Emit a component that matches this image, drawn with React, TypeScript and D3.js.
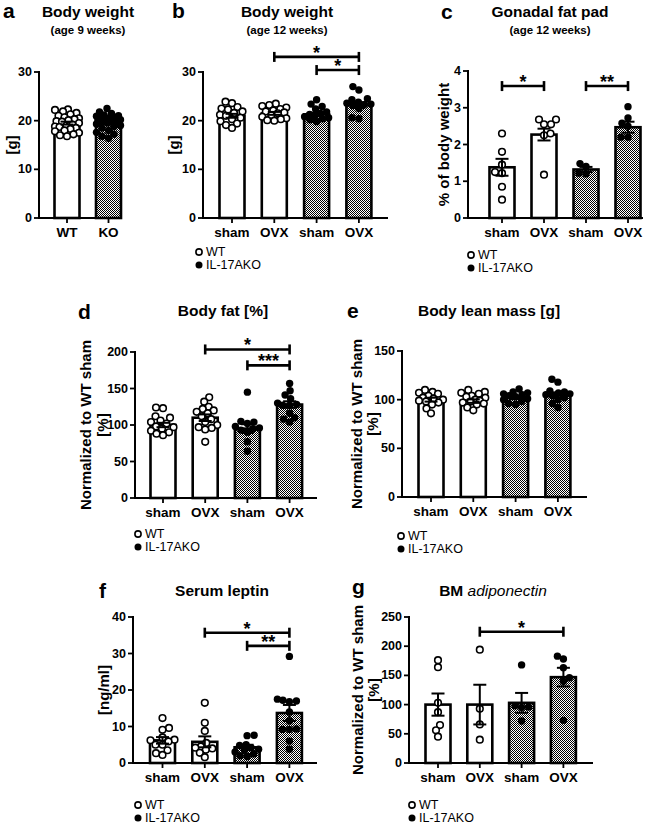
import React from "react";
import * as d3 from "d3";

const FONT = "'Liberation Sans', Arial, Helvetica, sans-serif";

// ---------- data ----------
const legendLabels = ["WT", "IL-17AKO"];
const fourGroups = ["sham", "OVX", "sham", "OVX"];
const fourGeno = ["WT", "WT", "KO", "KO"];

// a: body weight 9 weeks
const aGroups = ["WT", "KO"];
const aGeno = ["WT", "KO"];
const aMeans = [19.5, 19.6];
const aSems = [0.3, 0.3];
const aPoints = [
  [22.3, 22.2, 21.6, 21.9, 21.3, 21.0, 20.7, 20.5, 20.3, 20.1, 19.9, 19.8, 19.5, 19.2, 19.0, 18.8, 18.7, 18.5, 18.3, 18.0, 17.8, 17.5, 17.2, 17.0, 16.8],
  [22.5, 21.8, 21.5, 21.2, 21.0, 20.9, 20.7, 20.6, 20.5, 20.4, 20.2, 20.1, 20.0, 19.9, 19.7, 19.5, 19.3, 19.0, 18.8, 18.5, 18.0, 17.6, 17.2, 16.8, 16.4],
];

// b: body weight 12 weeks
const bMeans = [21.0, 21.5, 21.3, 23.2];
const bSems = [0.4, 0.3, 0.35, 0.6];
const bPoints = [
  [23.9, 23.6, 22.8, 22.5, 22.3, 21.9, 21.6, 21.2, 21.0, 20.6, 20.3, 19.9, 19.4, 19.1, 18.5],
  [23.5, 23.2, 23.0, 22.7, 22.4, 22.1, 21.9, 21.7, 21.5, 21.1, 20.8, 20.5, 20.3, 20.1, 20.0],
  [24.3, 23.4, 22.9, 22.4, 21.8, 21.5, 21.3, 21.0, 20.8, 20.6, 20.4, 20.2, 19.8],
  [27.0, 26.3, 24.5, 24.3, 23.8, 23.6, 23.4, 23.3, 23.1, 22.5, 20.6, 20.4],
];
const bBrackets = [
  { from: 1, to: 3, at: 33.1, label: "*" },
  { from: 2, to: 3, at: 30.4, label: "*" },
];

// c: gonadal fat pad
const cMeans = [1.38, 2.27, 1.32, 2.47];
const cSems = [0.23, 0.16, 0.07, 0.15];
const cPoints = [
  [2.3, 1.8, 1.45, 1.25, 1.22, 0.85, 0.5],
  [2.68, 2.68, 2.55, 2.55, 2.3, 2.25, 1.18],
  [1.48, 1.4, 1.22, 1.2],
  [3.03, 2.72, 2.58, 2.5, 2.2, 2.2],
];
const cBrackets = [
  { from: 0, to: 1, at: 3.59, label: "*" },
  { from: 2, to: 3, at: 3.59, label: "**" },
];

// d: body fat
const dMeans = [100, 110, 95, 128];
const dSems = [3, 4.5, 6, 4.5];
const dPoints = [
  [124, 123, 112, 110, 106, 104, 102, 98, 97, 95, 92, 90, 88, 86],
  [138, 132, 125, 122, 120, 118, 116, 112, 108, 104, 100, 97, 96, 94, 77],
  [145, 105, 104, 102, 98, 96, 95, 93, 90, 77, 64],
  [157, 147, 141, 136, 130, 128, 127, 127, 116, 110, 108, 104],
];
const dBrackets = [
  { from: 1, to: 3, at: 203.5, label: "*" },
  { from: 2, to: 3, at: 181.7, label: "***" },
];

// e: body lean mass
const eMeans = [100, 98.5, 102, 105];
const eSems = [2, 1.8, 1.5, 2.5];
const ePoints = [
  [110, 108, 107, 106, 104, 102, 101, 100, 99, 98, 97, 95, 91, 86],
  [110, 108, 107, 106, 104, 103, 102, 100, 99, 98, 97, 96, 95, 92, 89],
  [111, 108, 107, 106, 105, 104, 103, 101, 100, 98, 96, 95],
  [121, 118, 109, 108, 107, 106, 105, 104, 102, 100, 96, 92],
];

// f: serum leptin
const fMeans = [6.2, 5.8, 4.3, 13.7];
const fSems = [0.9, 1.5, 0.7, 2.2];
const fPoints = [
  [12.3, 9.6, 9.1, 7.0, 6.4, 6.2, 5.9, 5.0, 5.0, 3.5, 2.7, 2.2],
  [16.5, 11.0, 8.8, 5.5, 4.5, 4.2, 4.0, 3.6, 2.8, 1.6],
  [7.6, 7.5, 5.0, 4.8, 4.2, 3.8, 3.5, 3.0, 2.5, 2.0, 1.8],
  [29.2, 17.5, 17.2, 17.0, 16.8, 14.0, 11.5, 9.3, 9.2, 9.2, 6.0, 3.8],
];
const fBrackets = [
  { from: 1, to: 3, at: 35.7, label: "*" },
  { from: 2, to: 3, at: 32.1, label: "**" },
];

// g: BM adiponectin
const gMeans = [100, 100, 103, 147];
const gSems = [19, 34, 17, 16];
const gPoints = [
  [176, 164, 103, 87, 65, 56, 45],
  [194, 93, 66, 40],
  [168, 98, 96, 95, 72],
  [183, 178, 163, 146, 140, 73],
];
const gBrackets = [{ from: 1, to: 3, at: 224.8, label: "*" }];

// ---------- helpers ----------
const R = 3.3;

function swarm(ys: number[], r: number, maxOff: number): number[] {
  const idx = ys.map((_, i) => i).sort((a, b) => ys[b] - ys[a]);
  const placed: { x: number; y: number }[] = [];
  const xs = new Array(ys.length).fill(0);
  const d = 2 * r;
  idx.forEach((i, n) => {
    const yv = ys[i];
    let best = 0;
    let bestScore = -Infinity;
    let done = false;
    const signs = n % 2 === 0 ? [1, -1] : [-1, 1];
    for (let k = 0; k <= maxOff * 2 && !done; k++) {
      for (const s of k === 0 ? [1] : signs) {
        const off = s * k * 0.5;
        let minD = Infinity;
        for (const p of placed) {
          const dd = Math.hypot(p.x - off, p.y - yv);
          if (dd < minD) minD = dd;
        }
        if (minD >= d) {
          best = off;
          done = true;
          break;
        }
        if (minD > bestScore + 0.01) {
          bestScore = minD;
          best = off;
        }
      }
    }
    xs[i] = best;
    placed.push({ x: best, y: yv });
  });
  return xs;
}

type Bracket = { from: number; to: number; at: number; label: string };

type PanelCfg = {
  letter: string;
  letterX: number;
  letterY: number;
  title: React.ReactNode;
  titleX: number;
  titleY: number;
  subtitle?: string;
  subY?: number;
  axisX: number;
  yTop: number;
  yBottom: number;
  max: number;
  ticks: number[];
  firstCenter: number;
  spacing: number;
  axisEnd: number;
  labels: string[];
  geno: string[];
  means: number[];
  sems: number[];
  points: number[][];
  ylabel: string[];
  ylabelX: number[];
  brackets?: Bracket[];
  legend?: { x: number; y: number };
};

const LEG_STEP = 13;

function Panel({ c }: { c: PanelCfg }) {
  const y = d3.scaleLinear().domain([0, c.max]).range([c.yBottom, c.yTop]);
  const x = d3
    .scalePoint<number>()
    .domain(d3.range(c.labels.length))
    .range([c.firstCenter, c.firstCenter + c.spacing * (c.labels.length - 1)]);
  const bw = 25;
  const midY = (c.yTop + c.yBottom) / 2;
  return (
    <g>
      <text x={c.letterX} y={c.letterY} fontSize={21} fontWeight="bold">
        {c.letter}
      </text>
      <text x={c.titleX} y={c.titleY} fontSize={15.5} fontWeight="bold" textAnchor="middle">
        {c.title}
      </text>
      {c.subtitle && (
        <text x={c.titleX} y={c.subY} fontSize={11.5} fontWeight="bold" textAnchor="middle">
          {c.subtitle}
        </text>
      )}
      {c.ylabel.map((t, i) => (
        <text
          key={i}
          transform={`translate(${c.ylabelX[i]},${midY}) rotate(-90)`}
          fontSize={15}
          fontWeight="bold"
          textAnchor="middle"
          dominantBaseline="central"
        >
          {t}
        </text>
      ))}
      {/* bars */}
      {c.means.map((m, i) => {
        const cx = x(i)!;
        return (
          <rect
            key={i}
            x={cx - bw / 2}
            y={y(m)}
            width={bw}
            height={c.yBottom - y(m)}
            fill={c.geno[i] === "KO" ? "url(#chk)" : "#fff"}
            stroke="#000"
            strokeWidth={2.6}
          />
        );
      })}
      {/* dots */}
      {c.points.map((pts, i) => {
        const cx = x(i)!;
        const ys = pts.map((v) => y(v));
        const xs = swarm(ys, R, 12);
        return (
          <g key={i}>
            {pts.map((_, j) => (
              <circle
                key={j}
                cx={cx + xs[j]}
                cy={ys[j]}
                r={c.geno[i] === "KO" ? R + 0.4 : R}
                fill={c.geno[i] === "KO" ? "#000" : "#fff"}
                stroke="#000"
                strokeWidth={c.geno[i] === "KO" ? 0 : 1.6}
              />
            ))}
          </g>
        );
      })}
      {/* error bars */}
      {c.means.map((m, i) => {
        const cx = x(i)!;
        const s = c.sems[i];
        return (
          <g key={i} stroke="#000" strokeWidth={2}>
            <line x1={cx} x2={cx} y1={y(m - s)} y2={y(m + s)} />
            <line x1={cx - 6.5} x2={cx + 6.5} y1={y(m + s)} y2={y(m + s)} />
            <line x1={cx - 6.5} x2={cx + 6.5} y1={y(m - s)} y2={y(m - s)} />
          </g>
        );
      })}
      {/* y axis */}
      <line x1={c.axisX} x2={c.axisX} y1={c.yTop - 1} y2={c.yBottom} stroke="#000" strokeWidth={2} />
      {c.ticks.map((t) => (
        <g key={t}>
          <line x1={c.axisX - 5} x2={c.axisX} y1={y(t)} y2={y(t)} stroke="#000" strokeWidth={1.8} />
          <text
            x={c.axisX - 7}
            y={y(t)}
            fontSize={12.5}
            fontWeight="bold"
            textAnchor="end"
            dominantBaseline="central"
          >
            {t}
          </text>
        </g>
      ))}
      {/* x axis */}
      <line x1={c.axisX - 1} x2={c.axisEnd} y1={c.yBottom} y2={c.yBottom} stroke="#000" strokeWidth={2} />
      {c.labels.map((l, i) => (
        <g key={i}>
          <line x1={x(i)!} x2={x(i)!} y1={c.yBottom} y2={c.yBottom + 5} stroke="#000" strokeWidth={1.8} />
          <text x={x(i)!} y={c.yBottom + 18.5} fontSize={13.5} fontWeight="bold" textAnchor="middle">
            {l}
          </text>
        </g>
      ))}
      {/* brackets */}
      {(c.brackets || []).map((b, i) => {
        const by = y(b.at);
        const x1 = x(b.from)!;
        const x2 = x(b.to)!;
        return (
          <g key={i}>
            <g stroke="#000" strokeWidth={2.6}>
              <line x1={x1} x2={x2} y1={by} y2={by} />
              <line x1={x1} x2={x1} y1={by - 5} y2={by + 5} />
              <line x1={x2} x2={x2} y1={by - 5} y2={by + 5} />
            </g>
            <text x={(x1 + x2) / 2} y={by + 2} fontSize={18} fontWeight="bold" textAnchor="middle">
              {b.label}
            </text>
          </g>
        );
      })}
      {/* legend */}
      {c.legend &&
        legendLabels.map((l, i) => (
          <g key={l}>
            <circle
              cx={c.legend!.x}
              cy={c.legend!.y + i * LEG_STEP}
              r={i === 0 ? 3.1 : 3.5}
              fill={i === 0 ? "#fff" : "#000"}
              stroke="#000"
              strokeWidth={i === 0 ? 1.6 : 0}
            />
            <text
              x={c.legend!.x + 7}
              y={c.legend!.y + i * LEG_STEP}
              fontSize={12.5}
              dominantBaseline="central"
            >
              {l}
            </text>
          </g>
        ))}
    </g>
  );
}

export default function App() {
  const panels: PanelCfg[] = [
    {
      letter: "a", letterX: 3, letterY: 18,
      title: "Body weight", titleX: 88, titleY: 17, subtitle: "(age 9 weeks)", subY: 34,
      axisX: 39, yTop: 72, yBottom: 218, max: 30, ticks: [0, 10, 20, 30],
      firstCenter: 67, spacing: 41.5, axisEnd: 122,
      labels: aGroups, geno: aGeno, means: aMeans, sems: aSems, points: aPoints,
      ylabel: ["[g]"], ylabelX: [11],
    },
    {
      letter: "b", letterX: 172, letterY: 18,
      title: "Body weight", titleX: 287, titleY: 17, subtitle: "(age 12 weeks)", subY: 34,
      axisX: 203, yTop: 72, yBottom: 218, max: 30, ticks: [0, 10, 20, 30],
      firstCenter: 232, spacing: 42.3, axisEnd: 388,
      labels: fourGroups, geno: fourGeno, means: bMeans, sems: bSems, points: bPoints,
      ylabel: ["[g]"], ylabelX: [173], brackets: bBrackets, legend: { x: 199, y: 252 },
    },
    {
      letter: "c", letterX: 441, letterY: 19,
      title: "Gonadal fat pad", titleX: 550, titleY: 17, subtitle: "(age 12 weeks)", subY: 34,
      axisX: 468, yTop: 71, yBottom: 218, max: 4, ticks: [0, 1, 2, 3, 4],
      firstCenter: 502, spacing: 42, axisEnd: 643,
      labels: fourGroups, geno: fourGeno, means: cMeans, sems: cSems, points: cPoints,
      ylabel: ["% of body weight"], ylabelX: [443], brackets: cBrackets, legend: { x: 471, y: 255 },
    },
    {
      letter: "d", letterX: 78, letterY: 319,
      title: "Body fat [%]", titleX: 223, titleY: 316,
      axisX: 135, yTop: 352, yBottom: 498, max: 200, ticks: [0, 50, 100, 150, 200],
      firstCenter: 163, spacing: 42.2, axisEnd: 317,
      labels: fourGroups, geno: fourGeno, means: dMeans, sems: dSems, points: dPoints,
      ylabel: ["Normalized to WT sham", "[%]"], ylabelX: [85, 102], brackets: dBrackets,
      legend: { x: 138, y: 534 },
    },
    {
      letter: "e", letterX: 347, letterY: 318,
      title: "Body lean mass [g]", titleX: 489, titleY: 316,
      axisX: 402, yTop: 351, yBottom: 497, max: 150, ticks: [0, 50, 100, 150],
      firstCenter: 431, spacing: 42.3, axisEnd: 587,
      labels: fourGroups, geno: fourGeno, means: eMeans, sems: eSems, points: ePoints,
      ylabel: ["Normalized to WT sham", "[%]"], ylabelX: [356, 372], legend: { x: 401, y: 536 },
    },
    {
      letter: "f", letterX: 99, letterY: 598,
      title: "Serum leptin", titleX: 222, titleY: 596,
      axisX: 133, yTop: 617, yBottom: 763, max: 40, ticks: [0, 10, 20, 30, 40],
      firstCenter: 162.5, spacing: 42.3, axisEnd: 317,
      labels: fourGroups, geno: fourGeno, means: fMeans, sems: fSems, points: fPoints,
      ylabel: ["[ng/ml]"], ylabelX: [103], brackets: fBrackets, legend: { x: 138, y: 805 },
    },
    {
      letter: "g", letterX: 352, letterY: 594,
      title: (
        <>
          <tspan fontWeight="bold">BM </tspan>
          <tspan fontStyle="italic" fontWeight="normal">adiponectin</tspan>
        </>
      ),
      titleX: 493, titleY: 596,
      axisX: 409, yTop: 617, yBottom: 763, max: 250, ticks: [0, 50, 100, 150, 200, 250],
      firstCenter: 438, spacing: 41.8, axisEnd: 593,
      labels: fourGroups, geno: fourGeno, means: gMeans, sems: gSems, points: gPoints,
      ylabel: ["Normalized to WT sham", "[%]"], ylabelX: [357, 373], brackets: gBrackets,
      legend: { x: 412, y: 805 },
    },
  ];
  return (
    <div style={{ position: "absolute", left: 0, top: 0 }}>
      <svg width={658} height={824} style={{ display: "block", fontFamily: FONT }} fill="#000">
        <defs>
          <pattern id="chk" width={2} height={2} patternUnits="userSpaceOnUse">
            <rect width={2} height={2} fill="#fff" />
            <rect x={0} y={0} width={1} height={1} fill="#000" />
            <rect x={1} y={1} width={1} height={1} fill="#000" />
          </pattern>
        </defs>
        <rect width={658} height={824} fill="#fff" />
        {panels.map((p) => (
          <Panel key={p.letter} c={p} />
        ))}
      </svg>
    </div>
  );
}
